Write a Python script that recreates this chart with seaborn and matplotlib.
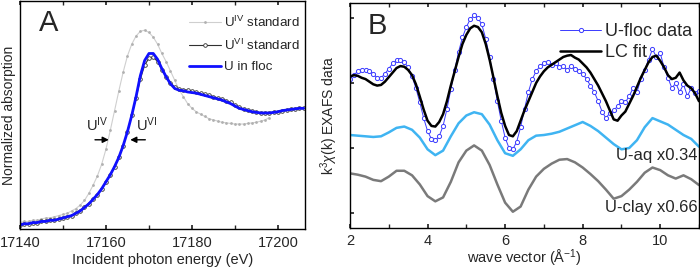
import numpy as np
import pandas as pd
import matplotlib.pyplot as plt
from matplotlib.ticker import MultipleLocator, NullFormatter
import seaborn as sns

sns.set_theme(style="ticks")
plt.rcParams["font.family"] = ["Liberation Sans", "DejaVu Sans"]
plt.rcParams["mathtext.fontset"] = "custom"
plt.rcParams["mathtext.rm"] = "Liberation Sans"
plt.rcParams["mathtext.it"] = "Liberation Sans:italic"

# ── Panel A data: XANES (normalized absorption) ───────────────
energy = [17140, 17141, 17142, 17143, 17144, 17145, 17146, 17147, 17148, 17149,
          17150, 17151, 17152, 17153, 17154, 17155, 17156, 17157, 17158, 17159,
          17160, 17161, 17162, 17163, 17164, 17165, 17166, 17167, 17168, 17169,
          17170, 17171, 17172, 17173, 17174, 17175, 17176, 17177, 17178, 17179,
          17180, 17181, 17182, 17183, 17184, 17185, 17186, 17187, 17188, 17189,
          17190, 17191, 17192, 17193, 17194, 17195, 17196, 17197, 17198, 17199,
          17200, 17201, 17202, 17203, 17204, 17205, 17206]

u_floc = [0.00, 0.01, 0.01, 0.02, 0.02, 0.03, 0.03, 0.04, 0.04, 0.05,
          0.06, 0.07, 0.08, 0.10, 0.12, 0.15, 0.18, 0.22, 0.26, 0.31,
          0.37, 0.43, 0.50, 0.58, 0.68, 0.80, 0.94, 1.10, 1.28, 1.41,
          1.47, 1.47, 1.42, 1.34, 1.27, 1.21, 1.17, 1.155, 1.15, 1.14,
          1.135, 1.13, 1.12, 1.11, 1.10, 1.09, 1.08, 1.07, 1.055, 1.04,
          1.02, 1.00, 0.99, 0.98, 0.97, 0.965, 0.96, 0.96, 0.96, 0.965,
          0.97, 0.98, 0.985, 0.99, 0.995, 1.00, 1.00]

u_vi_std = [0.00, 0.01, 0.01, 0.02, 0.02, 0.03, 0.03, 0.04, 0.04, 0.05,
            0.06, 0.07, 0.08, 0.10, 0.12, 0.15, 0.18, 0.22, 0.26, 0.31,
            0.37, 0.43, 0.50, 0.58, 0.68, 0.80, 0.94, 1.09, 1.25, 1.37,
            1.43, 1.44, 1.40, 1.33, 1.27, 1.22, 1.18, 1.165, 1.16, 1.155,
            1.15, 1.14, 1.13, 1.12, 1.11, 1.10, 1.09, 1.08, 1.065, 1.05,
            1.03, 1.01, 0.995, 0.985, 0.975, 0.965, 0.96, 0.96, 0.96, 0.965,
            0.97, 0.98, 0.985, 0.99, 0.995, 1.00, 1.00]

energy_iv = energy[:59]
u_iv_std = [0.02, 0.03, 0.03, 0.04, 0.04, 0.05, 0.06, 0.06, 0.07, 0.08,
            0.09, 0.10, 0.12, 0.14, 0.17, 0.21, 0.27, 0.34, 0.42, 0.52,
            0.65, 0.81, 0.98, 1.15, 1.31, 1.45, 1.55, 1.62, 1.66, 1.67,
            1.65, 1.61, 1.55, 1.47, 1.40, 1.32, 1.24, 1.16, 1.10, 1.04,
            1.00, 0.97, 0.95, 0.93, 0.91, 0.90, 0.89, 0.88, 0.875, 0.87,
            0.865, 0.865, 0.865, 0.87, 0.875, 0.88, 0.89, 0.90, 0.92]

# ── Panel B data: k^3-weighted EXAFS ──────────────────────────
k_fine = [2.0, 2.1, 2.2, 2.3, 2.4, 2.5, 2.6, 2.7, 2.8, 2.9,
          3.0, 3.1, 3.2, 3.3, 3.4, 3.5, 3.6, 3.7, 3.8, 3.9,
          4.0, 4.1, 4.2, 4.3, 4.4, 4.5, 4.6, 4.7, 4.8, 4.9,
          5.0, 5.1, 5.2, 5.3, 5.4, 5.5, 5.6, 5.7, 5.8, 5.9,
          6.0, 6.1, 6.2, 6.3, 6.4, 6.5, 6.6, 6.7, 6.8, 6.9,
          7.0, 7.1, 7.2, 7.3, 7.4, 7.5, 7.6, 7.7, 7.8, 7.9,
          8.0, 8.1, 8.2, 8.3, 8.4, 8.5, 8.6, 8.7, 8.8, 8.9,
          9.0, 9.1, 9.2, 9.3, 9.4, 9.5, 9.6, 9.7, 9.8, 9.9,
          10.0, 10.1, 10.2, 10.3, 10.4, 10.5, 10.6, 10.7, 10.8, 10.9, 11.0]

floc_data = [10.3, 10.6, 10.9, 11.0, 11.0, 10.9, 10.7, 10.4, 10.4, 10.7,
             11.1, 11.5, 11.75, 11.8, 11.6, 11.2, 10.5, 9.6, 8.5, 7.3,
             6.3, 5.7, 5.6, 5.9, 6.7, 8.0, 9.5, 11.0, 12.4, 13.5,
             14.3, 14.9, 15.2, 15.0, 14.5, 13.4, 12.0, 10.3, 8.6, 7.1,
             5.8, 5.0, 4.9, 5.5, 6.6, 8.0, 9.3, 10.3, 10.9, 11.3,
             11.5, 11.6, 11.4, 11.5, 11.2, 11.3, 11.0, 11.3, 11.1, 10.9,
             10.7, 10.3, 9.8, 9.3, 8.6, 7.8, 7.3, 7.7, 7.9, 8.2,
             8.6, 8.5, 9.0, 9.6, 9.3, 10.3, 11.0, 11.8, 12.6, 12.0,
             12.3, 11.2, 10.4, 9.6, 10.0, 9.3, 9.9, 9.0, 9.6, 9.2, 9.4]

lc_fit = [10.5, 10.6, 10.55, 10.4, 10.3, 10.1, 9.9, 9.8, 9.85, 10.1,
          10.45, 10.8, 11.15, 11.3, 11.25, 11.0, 10.6, 9.9, 8.95, 7.95,
          7.1, 6.7, 6.65, 7.0, 7.6, 8.6, 9.8, 10.9, 12.0, 13.0,
          13.7, 14.2, 14.4, 14.3, 13.9, 13.0, 11.8, 10.4, 9.0, 7.7,
          6.7, 6.0, 5.9, 6.3, 7.1, 7.9, 8.6, 9.3, 10.0, 10.5,
          10.9, 11.2, 11.4, 11.6, 11.8, 12.0, 12.1, 12.15, 11.95, 11.8,
          11.5, 11.2, 10.8, 10.3, 9.8, 9.2, 8.6, 7.9, 7.2, 7.1,
          7.5, 7.8, 8.4, 9.0, 9.7, 10.4, 11.0, 11.6, 12.0, 12.1,
          11.7, 11.2, 10.6, 10.3, 10.4, 10.8, 10.2, 9.8, 9.6, 9.2, 8.6]

k_coarse = [2.0, 2.2, 2.4, 2.6, 2.8, 3.0, 3.2, 3.4, 3.6, 3.8,
            4.0, 4.2, 4.4, 4.6, 4.8, 5.0, 5.2, 5.4, 5.6, 5.8,
            6.0, 6.2, 6.4, 6.6, 6.8, 7.0, 7.2, 7.4, 7.6, 7.8,
            8.0, 8.2, 8.4, 8.6, 8.8, 9.0, 9.2, 9.4, 9.6, 9.8,
            10.0, 10.2, 10.4, 10.6, 10.8, 11.0]

u_aq = [6.0, 5.95, 5.9, 5.85, 5.9, 6.2, 6.55, 6.65, 6.4, 5.8,
        4.9, 4.45, 4.8, 5.9, 6.9, 7.5, 7.75, 7.6, 6.8, 5.6,
        4.6, 4.4, 4.9, 5.6, 5.95, 6.0, 6.1, 6.25, 6.5, 6.75,
        7.0, 6.7, 6.3, 5.8, 5.3, 4.9, 5.0, 5.6, 6.6, 7.3,
        7.05, 6.8, 6.4, 6.0, 5.7, 5.1]

u_clay = [3.05, 2.95, 2.8, 2.55, 2.45, 2.8, 3.25, 3.25, 2.9, 2.2,
          1.3, 0.9, 1.2, 2.4, 3.9, 4.8, 5.2, 4.8, 3.7, 2.2,
          0.8, 0.1, 0.5, 1.8, 2.8, 3.4, 3.8, 4.1, 4.15, 3.9,
          3.5, 3.0, 2.45, 1.8, 1.1, 1.3, 1.8, 2.4, 3.1, 3.5,
          3.3, 2.9, 2.65, 2.9, 2.6, 2.15]

xanes = pd.DataFrame({"E": energy, "floc": u_floc, "vi": u_vi_std})
xanes_iv = pd.DataFrame({"E": energy_iv, "iv": u_iv_std})
exafs = pd.DataFrame({"k": k_fine, "data": floc_data, "fit": lc_fit})
comps = pd.DataFrame({"k": k_coarse, "aq": u_aq, "clay": u_clay})

BLUE = "#1010ff"
fig = plt.figure(figsize=(7, 2.69), dpi=100)
axA = fig.add_axes([20/700, 40/269, 285/700, 228/269])
axB = fig.add_axes([350/700, 41/269, 349/700, 225/269])

# ── Panel A ───────────────────────────────────────────────────
sns.lineplot(data=xanes_iv, x="E", y="iv", ax=axA, color="#cfcfcf", lw=0.8,
             marker="o", markersize=2.0, markeredgewidth=0, markerfacecolor="#b0b0b0",
             label="U$^{\\mathrm{IV}}$ standard")
sns.lineplot(data=xanes, x="E", y="vi", ax=axA, color="#303030", lw=0.8,
             marker="o", markersize=2.6, markeredgewidth=0.6, markerfacecolor="white",
             markeredgecolor="#303030", label="U$^{\\mathrm{VI}}$ standard")
sns.lineplot(data=xanes, x="E", y="floc", ax=axA, color=BLUE, lw=2.0,
             label="U in floc")
axA.set_xlim(17140, 17206.3)
axA.set_ylim(-0.035, 1.92)
axA.xaxis.set_major_locator(MultipleLocator(20))
axA.xaxis.set_minor_locator(MultipleLocator(10))
axA.set_yticks([])
axA.tick_params(axis="x", which="both", direction="in", top=True, labelsize=10.5,
                length=3, pad=5)
axA.set_xlabel("Incident photon energy (eV)", fontsize=10.5, labelpad=2)
axA.set_ylabel("Normalized absorption", fontsize=10, labelpad=3)
axA.annotate("", xy=(17161.3, 0.73), xytext=(17156.8, 0.73),
             arrowprops=dict(arrowstyle="-|>", color="black", lw=1.0, mutation_scale=9))
axA.annotate("", xy=(17165.0, 0.73), xytext=(17169.8, 0.73),
             arrowprops=dict(arrowstyle="-|>", color="black", lw=1.0, mutation_scale=9))
axA.text(17158.0, 0.78, "U$^{\\mathrm{IV}}$", fontsize=10.5, ha="center", va="bottom")
axA.text(17169.4, 0.78, "U$^{\\mathrm{VI}}$", fontsize=10.5, ha="center", va="bottom")
axA.text(0.10, 0.905, "A", transform=axA.transAxes, fontsize=21, ha="center", va="center")
axA.legend(loc="upper left", bbox_to_anchor=(0.565, 0.975), frameon=False, fontsize=9.6,
           handlelength=2.4, handletextpad=0.2, labelspacing=0.6, borderaxespad=0.2)

# ── Panel B ───────────────────────────────────────────────────
sns.lineplot(data=exafs, x="k", y="data", ax=axB, color="#3a3aff", lw=0.7,
             marker="o", markersize=3.0, markeredgewidth=0.7, markerfacecolor="white",
             markeredgecolor="#3a3aff", label="U-floc data")
sns.lineplot(data=exafs, x="k", y="fit", ax=axB, color="black", lw=1.8, label="LC fit")
sns.lineplot(data=comps, x="k", y="aq", ax=axB, color="#3fb4f2", lw=1.8, legend=False)
sns.lineplot(data=comps, x="k", y="clay", ax=axB, color="#7a7a7a", lw=1.8, legend=False)
axB.set_xlim(2, 11)
axB.set_ylim(-1.15, 16.15)
axB.xaxis.set_major_locator(MultipleLocator(2))
axB.xaxis.set_minor_locator(MultipleLocator(1))
axB.set_yticks([0, 5, 10, 15])
axB.yaxis.set_major_formatter(NullFormatter())
axB.tick_params(axis="x", which="both", direction="in", top=True, labelsize=10.5,
                length=3, pad=4)
axB.tick_params(axis="y", direction="in", length=3)
axB.set_xlabel("wave vector (\u00c5$^{-1}$)", fontsize=10.5, labelpad=0)
axB.set_ylabel("k$^3$$\\chi$(k) EXAFS data", fontsize=10, labelpad=4)
axB.text(0.997, 0.322, "U-aq x0.34", transform=axB.transAxes, fontsize=12,
         ha="right", va="center")
axB.text(0.997, 0.092, "U-clay x0.66", transform=axB.transAxes, fontsize=12,
         ha="right", va="center")
axB.text(0.077, 0.90, "B", transform=axB.transAxes, fontsize=21, ha="center", va="center")
axB.legend(loc="upper left", bbox_to_anchor=(0.57, 0.96), frameon=False, fontsize=13,
           handlelength=2.3, handletextpad=0.2, labelspacing=0.25, borderaxespad=0.2)

for ax in (axA, axB):
    for s in ax.spines.values():
        s.set_linewidth(1.0)
        s.set_color("black")

fig.savefig("out.png", dpi=100)
